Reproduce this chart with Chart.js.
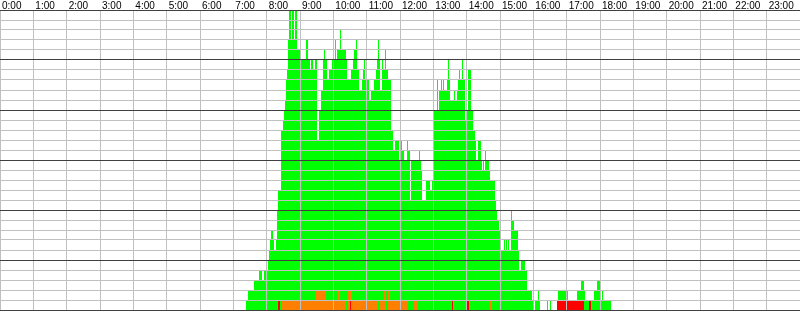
<!DOCTYPE html>
<html>
<head>
<meta charset="utf-8">
<title>Daily load</title>
<script src="https://cdn.jsdelivr.net/npm/chart.js@4.4.1/dist/chart.umd.min.js"></script>
<style>
  html, body { margin: 0; padding: 0; background: #fff; }
  #wrap { width: 800px; height: 311px; }
</style>
</head>
<body>
<div id="wrap"><canvas id="loadChart" width="800" height="311"></canvas></div>
<script>
// minute of day where a step starts -> number of cells from there on
const greenT = [0, 442.8, 446.4, 457.2, 466.2, 471.6, 475.2, 478.8, 480.6, 482.4, 484.2, 486, 487.8, 491.4, 493.2, 496.8, 498.6, 500.4,
  505.8, 509.4, 511.2, 513, 514.8, 516.6, 518.4, 520.2, 523.8, 525.6, 529.2, 531, 534.6, 540, 550.8, 554.4, 558, 559.8, 563.4,
  567, 570.6, 574.2, 577.8, 581.4, 583.2, 585, 588.6, 592.2, 597.6, 603, 604.8, 606.6, 612, 613.8, 622.8, 624.6, 631.8, 635.4,
  637.2, 640.8, 642.6, 646.2, 651.6, 653.4, 655.2, 657, 664.2, 667.8, 673.2, 676.8, 678.6, 680.4, 682.2, 684, 687.6, 689.4,
  693, 694.8, 698.4, 703.8, 707.4, 711, 718.2, 721.8, 723.6, 727.2, 732.6, 734.4, 738, 739.8, 754.2, 756, 757.8, 759.6, 766.8,
  774, 777.6, 779.4, 781.2, 786.6, 788.4, 790.2, 793.8, 795.6, 797.4, 799.2, 804.6, 806.4, 808.2, 810, 817.2, 819, 822.6,
  824.4, 826.2, 828, 831.6, 833.4, 837, 840.6, 842.4, 847.8, 851.4, 855, 856.8, 860.4, 865.8, 867.6, 869.4, 871.2, 873, 874.8,
  880.2, 882, 891, 892.8, 894.6, 898.2, 901.8, 907.2, 909, 910.8, 912.6, 914.4, 916.2, 919.8, 921.6, 925.2, 932.4, 934.2,
  937.8, 945, 948.6, 957.6, 959.4, 961.2, 963, 968.4, 970.2, 972, 984.6, 986.4, 990, 991.8, 1002.6, 1004.4, 1022.4, 1038.6,
  1045.8, 1051.2, 1053, 1069.2, 1074.6, 1080, 1081.8, 1083.6, 1085.4, 1099.8, 1440];
const greenH = [0, 1, 2, 3, 4, 3, 4, 3, 4, 5, 6, 7, 8, 7, 6, 7, 10, 12,
  18, 19, 20, 21, 23, 24, 27, 30, 27, 30, 27, 30, 26, 25, 27, 25, 24, 25, 24,
  25, 17, 20, 22, 25, 26, 25, 23, 24, 25, 27, 25, 26, 28, 26, 25, 23, 24, 25,
  26, 27, 24, 22, 23, 24, 25, 23, 21, 22, 23, 24, 25, 27, 25, 22, 25, 24,
  26, 24, 23, 18, 16, 17, 15, 17, 16, 15, 17, 16, 11, 15, 16, 15, 14, 11, 13,
  12, 13, 18, 20, 23, 20, 22, 23, 22, 23, 22, 23, 25, 23, 21, 22, 21, 22,
  23, 24, 23, 25, 23, 19, 20, 24, 20, 18, 17, 15, 17, 15, 14, 15, 14, 16, 15,
  14, 13, 11, 10, 9, 8, 6, 7, 6, 7, 6, 7, 6, 10, 9, 8, 6, 4,
  5, 4, 2, 1, 2, 0, 1, 2, 1, 0, 1, 0, 1, 0, 1, 2, 1, 2,
  3, 2, 1, 2, 3, 2, 1, 2, 1, 0, 0];

const orangeT = [0, 505.8, 567, 586.8, 592.2, 594, 603, 604.8, 606.6, 608.4, 610.2, 621, 624.6, 626.4, 633.6, 680.4, 682.2,
  691.2, 693, 694.8, 696.6, 698.4, 700.2, 721.8, 723.6, 734.4, 745.2, 747, 748.8, 750.6, 882, 883.8, 1020.6, 1022.4,
  1045.8, 1047.6, 1440];
const orangeH = [0, 1, 2, 1, 0, 1, 2, 1, 0, 2, 1, 0, 1, 2, 1, 0, 1,
  2, 1, 0, 1, 2, 1, 2, 1, 0, 1, 0, 1, 0, 1, 0, 2, 0,
  2, 0, 0];

const redT = [0, 500.4, 504, 630, 631.8, 813.6, 815.4, 838.8, 844.2, 1002.6, 1051.2, 1060.2, 1063.8, 1440];
const redH = [0, 1, 0, 1, 0, 1, 0, 1, 0, 1, 0, 1, 0, 0];

const hourTicks = [0, 60, 120, 180, 240, 300, 360, 420, 480, 540, 600, 660, 720, 780, 840, 900, 960, 1020, 1080, 1140, 1200, 1260, 1320, 1380];

function pts(ts, hs){ return ts.map((t, i) => ({ x: t, y: hs[i] })); }

function layer(label, ts, hs, color){
  return {
    label, data: pts(ts, hs), stepped: true, fill: 'origin',
    backgroundColor: color, borderColor: 'rgba(0,0,0,0)', borderWidth: 0,
    pointRadius: 0, pointHoverRadius: 0, tension: 0
  };
}

new Chart(document.getElementById('loadChart').getContext('2d'), {
  type: 'line',
  data: {
    // first dataset is drawn on top
    datasets: [
      layer('error', redT, redH, '#ff0000'),
      layer('warning', orangeT, orangeH, '#ff8000'),
      layer('ok', greenT, greenH, '#00ff00')
    ]
  },
  options: {
    responsive: false,
    animation: false,
    devicePixelRatio: 1,
    layout: { padding: { left: 0, right: 0, top: 0, bottom: 1 } },
    plugins: { legend: { display: false }, tooltip: { enabled: false } },
    scales: {
      x: {
        type: 'linear', position: 'top', min: 0, max: 1440,
        afterBuildTicks: s => { s.ticks = hourTicks.concat([1440]).map(v => ({ value: v })); },
        afterFit: s => { s.height = 10; },
        grid: { color: '#c0c0c0', lineWidth: 1, drawTicks: false, z: 1 },
        border: { display: false },
        ticks: {
          autoSkip: false, maxRotation: 0, minRotation: 0, align: 'start', padding: -2, labelOffset: 2,
          color: '#000', font: { family: 'Liberation Sans, Arial, sans-serif', size: 10 },
          callback: v => v < 1440 ? (v / 60) + ':00' : ''
        }
      },
      y: {
        min: 0, max: 30,
        afterFit: s => { s.width = 0; },
        grid: { color: c => c.tick.value % 5 === 0 ? '#404040' : '#c0c0c0', lineWidth: 1, drawTicks: false, z: 2 },
        border: { display: false },
        ticks: { display: false, stepSize: 1, maxTicksLimit: 100 }
      }
    }
  }
});
</script>
</body>
</html>
